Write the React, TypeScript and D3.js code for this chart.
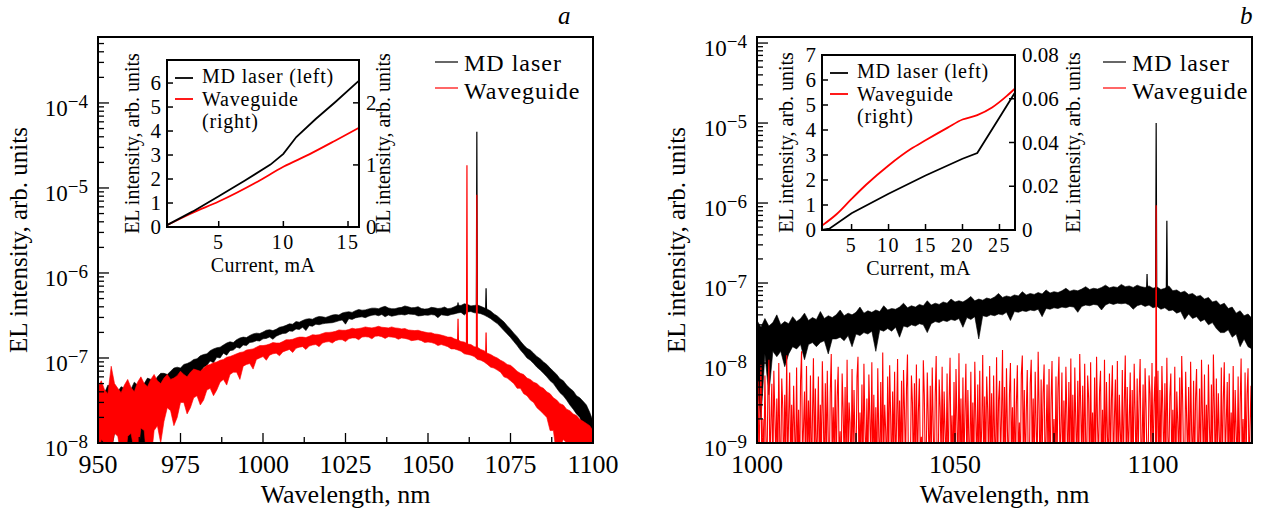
import React from 'react';
import * as d3 from 'd3';

const FONT = '"Liberation Serif", "Times New Roman", Times, serif';

// ---------- panel a: EL spectra 950..1100 nm, 1 nm step, noise band low/high, x1e-8
const aStartNm = 950;
const aLaserLo = [
  1.0, 0.5, 1.4, 1.1, 0.8, 1.3, 1.6, 0.7, 1.2, 1.0,
  0.6, 1.2, 1.5, 0.4, 0.7, 1.4, 1.8, 2.0, 2.6, 2.2,
  3.6, 3.4, 4.2, 3.9, 4.8, 4.4, 5.4, 5.0, 6.2, 6.0,
  7.0, 6.6, 7.8, 8.2, 9.2, 8.8, 10.2, 10.0, 11.4, 10.8,
  12.2, 12.4, 13.4, 13.0, 14.2, 14.0, 15.2, 15.4, 16.0, 15.8,
  16.8, 17.0, 17.6, 16.6, 18.0, 18.8, 19.4, 19.6, 20.8, 20.6,
  22.0, 21.6, 23.0, 21.0, 24.0, 23.6, 25.0, 24.6, 25.2, 25.6,
  25.8, 26.0, 26.6, 27.4, 28.0, 25.0, 29.0, 28.4, 29.6, 30.2,
  30.5, 29.8, 31.0, 31.8, 32.2, 31.4, 32.5, 30.5, 32.0, 31.0,
  31.6, 32.2, 32.5, 32.0, 33.0, 32.6, 32.4, 31.2, 31.5, 32.0,
  31.8, 32.4, 32.0, 29.8, 32.2, 31.8, 31.5, 32.4, 33.0, 33.8,
  34.4, 32.0, 34.8, 35.2, 34.0, 33.8, 33.2, 32.0, 30.5, 29.0,
  27.0, 25.4, 23.2, 21.0, 19.2, 17.4, 15.6, 14.0, 12.4, 11.2,
  10.0, 9.4, 8.6, 7.8, 7.2, 6.6, 6.0, 5.4, 5.0, 4.4,
  3.9, 3.6, 3.2, 2.8, 2.5, 2.2, 2.0, 1.6, 1.5, 1.2,
  0.9,
];
const aLaserHi = [
  4.2, 3.6, 3.9, 4.8, 4.6, 3.8, 4.0, 4.6, 4.4, 3.9,
  4.3, 5.2, 4.8, 4.4, 5.0, 5.8, 5.6, 5.2, 6.0, 6.6,
  6.6, 6.4, 7.0, 7.6, 7.8, 7.6, 8.4, 8.6, 9.0, 9.6,
  9.8, 10.6, 11.0, 11.2, 12.2, 12.8, 13.2, 13.4, 14.2, 15.0,
  15.5, 15.2, 16.4, 17.2, 17.6, 17.4, 18.4, 19.2, 19.6, 19.4,
  20.2, 21.2, 21.5, 21.0, 21.8, 23.0, 23.4, 24.2, 25.2, 25.0,
  26.8, 26.4, 27.6, 28.6, 29.0, 28.6, 30.0, 30.8, 30.5, 30.0,
  31.0, 32.0, 32.4, 32.0, 33.8, 34.6, 35.0, 34.4, 36.0, 37.2,
  36.5, 36.8, 37.8, 38.6, 38.6, 38.0, 39.5, 40.6, 38.8, 38.0,
  38.0, 39.0, 39.4, 41.0, 40.0, 39.0, 39.2, 40.2, 38.2, 37.6,
  38.0, 39.4, 39.0, 38.2, 38.6, 39.8, 38.0, 38.6, 40.0, 41.8,
  41.5, 43.5, 42.5, 41.0, 41.5, 42.0, 40.5, 39.0, 37.5, 35.6,
  33.0, 31.2, 28.8, 26.6, 24.0, 21.8, 19.6, 17.8, 15.8, 14.2,
  13.0, 12.4, 11.4, 10.4, 9.8, 9.0, 8.4, 7.6, 7.0, 6.4,
  5.7, 5.4, 4.8, 4.4, 4.1, 3.6, 3.4, 3.1, 2.8, 2.3,
  1.8,
];
const aGuideLo = [
  0.6, 1.1, 1.0, 0.4, 0.8, 1.3, 1.2, 0.7, 0.5, 1.2,
  1.3, 0.8, 0.7, 1.5, 1.4, 0.5, 0.6, 1.4, 1.6, 1.0,
  1.8, 2.6, 2.4, 1.6, 2.0, 3.0, 3.0, 2.2, 2.6, 3.4,
  3.6, 2.8, 3.2, 4.2, 4.4, 3.6, 4.2, 5.2, 5.6, 4.8,
  6.4, 6.8, 6.8, 5.6, 8.0, 8.4, 8.6, 7.4, 9.6, 10.0,
  10.4, 9.4, 10.8, 11.2, 11.4, 10.6, 11.8, 12.2, 12.6, 11.6,
  13.0, 13.4, 13.6, 12.6, 13.8, 14.2, 14.4, 13.6, 15.0, 15.4,
  15.6, 15.0, 16.0, 16.4, 16.4, 15.6, 16.8, 17.2, 17.2, 16.4,
  17.6, 17.8, 17.6, 16.8, 18.0, 18.2, 17.8, 17.0, 17.8, 17.6,
  17.4, 16.6, 17.2, 17.0, 16.6, 16.0, 16.2, 16.4, 16.0, 15.2,
  15.4, 15.2, 14.8, 14.0, 14.4, 14.0, 13.6, 12.8, 12.8, 12.4,
  12.0, 11.2, 11.0, 10.8, 10.4, 9.6, 9.4, 9.0, 8.4, 7.8,
  7.6, 7.2, 6.8, 6.0, 5.8, 5.4, 5.0, 4.4, 4.4, 3.8,
  3.6, 3.2, 3.0, 2.6, 2.4, 2.2, 2.0, 1.4, 1.4, 0.7,
  0.9, 1.1, 1.0, 0.6, 0.7, 0.9, 0.8, 0.5, 0.6, 0.7,
  0.5,
];
const aGuideHi = [
  4.6, 5.4, 4.2, 3.8, 8.0, 5.0, 4.4, 3.9, 4.8, 5.6,
  4.5, 4.0, 5.2, 6.0, 5.0, 4.6, 5.6, 6.4, 5.4, 5.0,
  5.8, 6.4, 5.6, 5.8, 6.2, 7.0, 6.4, 6.0, 6.8, 7.4,
  7.2, 7.0, 7.6, 8.2, 8.4, 8.8, 9.0, 9.4, 9.6, 10.2,
  10.4, 10.8, 11.2, 11.6, 11.8, 12.4, 12.6, 12.8, 13.4, 14.0,
  14.0, 14.2, 14.6, 15.2, 15.0, 15.0, 15.6, 16.4, 16.4, 16.6,
  17.2, 17.6, 17.6, 17.4, 18.0, 18.8, 18.6, 18.8, 19.4, 20.0,
  20.0, 20.2, 20.6, 21.4, 21.2, 21.2, 21.6, 22.4, 22.0, 22.2,
  22.6, 23.2, 22.8, 22.6, 23.0, 23.6, 23.0, 22.8, 22.6, 23.2,
  22.6, 22.4, 22.0, 22.2, 21.4, 21.2, 21.0, 21.2, 20.6, 20.2,
  19.8, 19.8, 19.2, 19.0, 18.6, 18.2, 17.6, 17.6, 16.8, 16.4,
  15.6, 15.4, 14.6, 14.4, 13.6, 13.4, 12.6, 12.2, 11.4, 11.0,
  10.4, 10.0, 9.4, 9.0, 8.4, 8.2, 7.6, 7.0, 6.6, 6.4,
  5.8, 5.6, 5.2, 5.0, 4.6, 4.4, 4.0, 3.8, 3.4, 3.2,
  2.9, 2.8, 2.5, 2.4, 2.2, 2.1, 1.9, 1.8, 1.7, 1.6,
  1.4,
];
const aLaserPeakNm = [1059.1, 1064.8, 1067.6];
const aLaserPeakVal = [4.5e-7, 4.6e-5, 6.6e-7];
const aGuidePeakNm = [1059.1, 1061.8, 1064.8, 1067.6];
const aGuidePeakVal = [2.9e-7, 1.85e-5, 8.3e-6, 2.0e-7];

// panel a inset: integrated EL vs current
const aInsetCurLaser = [1, 3, 5, 7, 9, 10, 11, 12.5, 14, 15.85];
const aInsetLaser = [0.08, 0.65, 1.28, 1.93, 2.6, 3.05, 3.75, 4.5, 5.2, 6.1];
const aInsetCurGuide = [1, 3, 5, 8, 10, 12, 14, 15.85];
const aInsetGuide = [0.03, 0.23, 0.41, 0.73, 0.97, 1.17, 1.39, 1.6];

// ---------- panel b: 1000..1125 nm
const bStartNm = 1000;
// laser, 1 nm step, noise band low/high, x1e-8
const bLaserLo = [
  0.5, 0.2, 1.3, 0.4, 1.4, 1.2, 1.4, 0.9, 1.3, 1.6,
  1.5, 1.7, 1.1, 1.7, 1.8, 1.6, 1.8, 1.9, 1.3, 2.0,
  2.0, 2.1, 1.9, 2.2, 1.6, 2.3, 2.2, 2.4, 2.3, 2.5,
  1.4, 2.6, 2.5, 2.7, 2.5, 2.8, 2.1, 2.9, 2.8, 3.0,
  2.9, 3.1, 3.0, 2.4, 3.1, 3.3, 3.2, 3.4, 3.3, 3.5,
  3.4, 3.6, 2.8, 3.7, 3.5, 3.8, 2.0, 3.9, 3.8, 4.0,
  3.9, 4.1, 4.0, 4.3, 3.4, 4.4, 4.3, 4.5, 4.4, 4.6,
  4.5, 4.7, 3.8, 4.8, 4.7, 4.9, 4.8, 5.0, 4.9, 5.1,
  5.0, 4.3, 5.1, 5.3, 5.2, 5.4, 5.3, 4.6, 5.3, 5.6,
  5.4, 5.6, 5.5, 5.6, 5.3, 4.7, 5.2, 5.4, 5.1, 5.3,
  4.9, 5.1, 4.7, 4.9, 4.5, 4.6, 4.2, 4.4, 3.5, 4.1,
  3.6, 3.8, 3.3, 3.5, 3.0, 3.2, 2.7, 2.4, 2.4, 2.6,
  2.1, 2.3, 1.6, 2.0, 1.6, 1.5,
];
const bLaserHi = [
  3.4, 2.8, 3.6, 2.9, 3.2, 4.0, 3.0, 3.3, 3.1, 3.8,
  3.3, 3.6, 4.2, 3.4, 3.7, 3.5, 4.4, 3.6, 3.9, 3.7,
  4.0, 4.6, 3.9, 4.2, 4.0, 4.3, 5.0, 4.2, 4.5, 4.3,
  4.6, 4.4, 5.2, 4.6, 4.8, 4.7, 5.0, 5.6, 4.9, 5.2,
  5.0, 5.4, 5.2, 6.0, 5.3, 5.6, 5.4, 5.8, 5.6, 6.3,
  5.8, 6.0, 5.8, 6.2, 6.8, 6.0, 6.3, 6.1, 6.5, 6.3,
  6.7, 7.4, 6.6, 6.9, 6.7, 7.1, 6.9, 7.8, 7.1, 7.4,
  7.2, 7.6, 7.3, 8.2, 7.5, 7.8, 7.6, 8.0, 8.6, 7.9,
  8.2, 8.0, 8.4, 9.0, 8.3, 8.6, 8.4, 8.8, 9.4, 8.7,
  9.0, 8.8, 9.6, 9.0, 9.2, 8.8, 9.4, 9.0, 8.8, 9.2,
  8.6, 8.9, 8.3, 8.6, 9.2, 8.0, 8.2, 7.6, 7.9, 7.2,
  7.4, 6.8, 7.0, 6.3, 6.6, 5.8, 6.0, 5.3, 5.6, 4.8,
  5.0, 4.2, 4.5, 3.9, 4.1, 3.6,
];
// waveguide, 0.25 nm step, x1e-9
const bGuide = [
  0.4, 6.0, 0.5, 3.2, 9.5, 0.3, 2.0, 0.6, 7.0, 1.2, 0.4, 4.5, 11.0, 0.5, 1.8, 5.5, 0.3, 8.0, 2.4, 0.6,
  3.6, 0.4, 10.0, 1.0, 0.5, 6.4, 2.8, 0.3, 4.0, 0.7, 12.5, 0.5, 2.2, 7.6, 0.4, 3.0, 0.6, 5.2, 1.4, 0.4,
  8.8, 0.5, 2.6, 0.3, 6.0, 14.0, 0.6, 1.6, 4.4, 0.4, 9.2, 0.5, 3.4, 0.7, 7.0, 0.3, 2.0, 11.5, 0.5, 4.8,
  0.6, 1.2, 6.8, 0.4, 3.0, 0.5, 10.5, 2.2, 0.3, 5.6, 0.6, 8.0, 1.0, 0.4, 4.2, 13.0, 0.5, 2.8, 0.7, 6.2,
  0.4, 3.8, 9.0, 0.5, 1.4, 0.3, 7.4, 2.6, 0.6, 5.0, 0.4, 11.0, 0.5, 3.2, 1.8, 0.3, 8.4, 0.6, 4.6, 1.0,
  0.5, 6.6, 12.0, 0.4, 2.4, 0.7, 5.4, 0.3, 9.8, 1.6, 0.5, 3.6, 0.4, 7.2, 2.0, 0.6, 10.2, 0.4, 4.0, 0.5,
  2.8, 0.3, 8.6, 1.2, 0.5, 5.8, 0.4, 13.5, 0.6, 3.0, 1.4, 0.4, 6.8, 0.5, 9.4, 2.2, 0.3, 4.4, 0.7, 7.8,
  0.4, 1.8, 11.2, 0.5, 3.4, 0.6, 6.0, 0.3, 8.2, 2.6, 0.5, 4.8, 12.8, 0.4, 1.0, 0.6, 7.0, 3.2, 0.3, 5.6,
  0.5, 9.6, 0.4, 2.4, 6.4, 0.6, 1.2, 0.3, 10.8, 4.0, 0.5, 0.7, 7.6, 2.0, 0.4, 5.2, 0.5, 8.8, 1.6, 0.3,
  3.8, 12.2, 0.5, 0.4, 6.2, 2.8, 0.6, 9.0, 0.4, 4.4, 1.4, 0.5, 7.4, 0.3, 3.0, 11.6, 0.6, 2.2, 0.4, 5.8,
  0.5, 8.4, 1.8, 0.4, 13.2, 0.6, 3.6, 0.3, 6.6, 0.5, 2.4, 9.8, 0.4, 4.6, 1.0, 0.6, 7.8, 0.5, 3.2, 0.4,
  10.4, 2.0, 0.5, 5.4, 0.3, 8.0, 0.6, 1.6, 12.6, 0.4, 3.8, 0.5, 6.8, 2.6, 0.4, 9.2, 0.6, 4.2, 0.3, 7.0,
  1.2, 0.5, 11.8, 0.4, 3.4, 6.0, 0.6, 2.2, 14.5, 0.3, 5.0, 0.5, 8.6, 1.4, 0.4, 4.0, 10.0, 0.6, 2.8, 0.5,
  6.4, 0.3, 3.0, 9.4, 0.5, 1.8, 0.4, 7.2, 12.4, 0.6, 4.6, 0.4, 2.4, 8.2, 0.5, 0.3, 5.6, 11.0, 0.6, 3.6,
  0.4, 7.8, 1.6, 0.5, 13.8, 2.6, 0.3, 6.2, 0.6, 4.2, 9.6, 0.4, 1.2, 5.4, 0.5, 8.4, 0.3, 3.2, 10.6, 0.6,
  2.0, 0.4, 6.8, 0.5, 4.8, 12.0, 0.6, 1.4, 7.6, 0.3, 3.4, 0.5, 9.0, 2.2, 0.4, 5.8, 0.6, 11.4, 0.5, 4.0,
  0.3, 8.8, 1.8, 0.5, 6.0, 0.4, 13.0, 2.8, 0.6, 5.2, 0.4, 9.8, 1.0, 0.5, 7.0, 3.6, 0.3, 10.2, 0.6, 2.4,
  0.5, 6.6, 0.4, 12.0, 1.6, 0.6, 4.4, 8.0, 0.3, 2.6, 0.5, 11.0, 0.4, 5.8, 1.2, 0.6, 7.4, 0.5, 3.4, 9.4,
  0.4, 2.0, 6.2, 0.5, 10.6, 0.3, 4.0, 1.4, 0.6, 8.2, 0.4, 3.0, 12.4, 0.5, 5.0, 0.6, 1.8, 7.6, 0.3, 4.6,
  0.5, 9.8, 2.2, 0.4, 6.4, 0.6, 3.6, 11.2, 0.5, 1.0, 5.4, 0.3, 8.6, 2.8, 0.5, 0.4, 7.0, 4.2, 0.6, 10.0,
  0.4, 3.0, 6.8, 0.5, 1.6, 8.0, 0.3, 4.6, 0.6, 9.2, 2.4, 0.4, 5.6, 0.5, 11.6, 1.2, 0.6, 3.8, 7.4, 0.4,
  2.6, 0.5, 9.0, 0.3, 4.4, 1.8, 0.6, 6.6, 0.4, 12.2, 3.2, 0.5, 0.4, 7.8, 2.0, 0.6, 5.0, 0.3, 10.4, 1.4,
  0.5, 6.0, 0.4, 3.6, 8.4, 0.6, 1.0, 4.8, 0.3, 11.0, 2.2, 0.5, 7.2, 0.4, 3.0, 0.6, 9.6, 1.6, 0.5, 5.4,
  0.4, 12.8, 2.8, 0.3, 6.4, 0.6, 4.2, 1.2, 0.5, 8.8, 0.4, 3.4, 10.2, 0.6, 1.8, 5.8, 0.3, 7.4, 0.5, 2.4,
  0.6, 9.2, 0.4, 4.6, 1.4, 0.5, 6.8, 0.3, 3.0, 11.4, 0.6, 2.0, 0.4, 7.6, 0.5, 4.0, 8.6, 0.4, 1.6, 5.2,
  0.5,
];
const bLaserPeakNm = [1098.5, 1100.8, 1103.5];
const bLaserPeakVal = [1.3e-7, 1.0e-5, 6.0e-7];
const bGuidePeakNm = [1100.8];
const bGuidePeakVal = [9.4e-7];

const bInsetCurLaser = [1, 2, 5, 10, 15, 20, 22, 25, 27.1];
const bInsetLaser = [0, 0.05, 0.67, 1.45, 2.18, 2.85, 3.08, 4.5, 5.5];
const bInsetCurGuide = [1, 3, 5, 7, 10, 13, 15, 18, 20, 22, 24, 26, 27.1];
const bInsetGuide = [0.002, 0.0073, 0.0142, 0.0208, 0.0295, 0.037, 0.041, 0.0468, 0.0505, 0.0525, 0.056, 0.0613, 0.0647];

type Pt = [number, number];
type Band = { start: number; step: number; lo: number[]; hi: number[]; unit: number };
type Trace = { start: number; step: number; vals: number[]; unit: number };
type Peaks = { nm: number[]; val: number[]; base: (nm: number) => number };

function bandBase(b: Band) {
  return (nm: number) => {
    const i = Math.round((nm - b.start) / b.step);
    return Math.sqrt(b.lo[i] * b.hi[i]) * b.unit;
  };
}
function traceBase(t: Trace) {
  return (nm: number) => t.vals[Math.round((nm - t.start) / t.step)] * t.unit;
}

type InsetProps = {
  left: number; right: number; top: number; bottom: number;
  curDomain: [number, number]; leftMax: number; rightMax: number;
  curTicks: number[]; leftTicks: number[]; rightTicks: number[];
  rightFmt: (v: number) => string;
  laserCur: number[]; laser: number[]; guideCur: number[]; guide: number[];
  leftTitleX: number; rightTitleX: number;
};

function Inset(p: InsetProps) {
  const x = d3.scaleLinear().domain(p.curDomain).range([p.left, p.right]);
  const yl = d3.scaleLinear().domain([0, p.leftMax]).range([p.bottom, p.top]);
  const yr = d3.scaleLinear().domain([0, p.rightMax]).range([p.bottom, p.top]);
  const lineL = d3.line<number>().x((_, i) => x(p.laserCur[i])).y(d => yl(d));
  const lineR = d3.line<number>().x((_, i) => x(p.guideCur[i])).y(d => yr(d)).curve(d3.curveMonotoneX);
  const midY = (p.top + p.bottom) / 2;
  return (
    <g fontFamily={FONT}>
      <rect x={p.left} y={p.top} width={p.right - p.left} height={p.bottom - p.top} fill="#fff" />
      <path d={lineR(p.guide) || ''} fill="none" stroke="#ff0000" strokeWidth={1.8} />
      <path d={lineL(p.laser) || ''} fill="none" stroke="#000" strokeWidth={1.8} />
      {p.curTicks.map(t => (
        <g key={'c' + t}>
          <line x1={x(t)} x2={x(t)} y1={p.bottom} y2={p.bottom - 6} stroke="#000" strokeWidth={1.5} />
          <text x={x(t)} y={p.bottom + 22} fontSize={20} textAnchor="middle" letterSpacing={1.5}>{t}</text>
        </g>
      ))}
      {p.leftTicks.map(t => (
        <g key={'l' + t}>
          <line x1={p.left} x2={p.left + 6} y1={yl(t)} y2={yl(t)} stroke="#000" strokeWidth={1.5} />
          <text x={p.left - 6} y={yl(t) + 7} fontSize={21} textAnchor="end">{t}</text>
        </g>
      ))}
      {p.rightTicks.map(t => (
        <g key={'r' + t}>
          <line x1={p.right} x2={p.right - 6} y1={yr(t)} y2={yr(t)} stroke="#000" strokeWidth={1.5} />
          <text x={p.right + 7} y={yr(t) + 7} fontSize={21} textAnchor="start">{p.rightFmt(t)}</text>
        </g>
      ))}
      <rect x={p.left} y={p.top} width={p.right - p.left} height={p.bottom - p.top} fill="none" stroke="#000" strokeWidth={2} />
      <text x={(p.left + p.right) / 2} y={p.bottom + 45} fontSize={20} textAnchor="middle" letterSpacing={0.3}>Current, mA</text>
      <text transform={`translate(${p.leftTitleX},${midY}) rotate(-90)`} fontSize={20} textAnchor="middle">EL intensity, arb. units</text>
      <text transform={`translate(${p.rightTitleX},${midY}) rotate(-90)`} fontSize={20} textAnchor="middle">EL intensity, arb. units</text>
      {/* legend */}
      <line x1={p.left + 8} x2={p.left + 26} y1={p.top + 18} y2={p.top + 18} stroke="#000" strokeWidth={1.8} />
      <line x1={p.left + 8} x2={p.left + 26} y1={p.top + 39} y2={p.top + 39} stroke="#ff0000" strokeWidth={1.8} />
      <text x={p.left + 35} y={p.top + 23} fontSize={20} letterSpacing={0.8}>MD laser (left)</text>
      <text x={p.left + 35} y={p.top + 45.5} fontSize={20} letterSpacing={0.8}>Waveguide</text>
      <text x={p.left + 35} y={p.top + 68} fontSize={20} letterSpacing={0.8}>(right)</text>
    </g>
  );
}

type PanelProps = {
  clipId: string;
  left: number; right: number; top: number; bottom: number;
  nmDomain: [number, number]; yDomain: [number, number];
  nmMajor: number[]; nmMinor: number[]; nmLabels: number[];
  laser: Band; guideBand?: Band; guideTrace?: Trace;
  laserPeaks: Peaks; guidePeaks: Peaks;
  letter: string; letterX: number; legendX: number; yTitleX: number;
  children?: React.ReactNode;
};

function Panel(p: PanelProps) {
  const x = d3.scaleLinear().domain(p.nmDomain).range([p.left, p.right]);
  const y = d3.scaleLog().domain(p.yDomain).range([p.bottom, p.top]);
  const floor = p.yDomain[0] / 20;
  const yv = (v: number) => y(Math.max(v, floor));
  const area = (b: Band) =>
    d3.area<number>()
      .x((_, i) => x(b.start + i * b.step))
      .y0((_, i) => yv(b.lo[i] * b.unit))
      .y1((_, i) => yv(b.hi[i] * b.unit))(b.lo) || '';
  const trace = (t: Trace) =>
    d3.line<number>().x((_, i) => x(t.start + i * t.step)).y(d => yv(d * t.unit))(t.vals) || '';
  const peakLine = d3.line<Pt>().x(d => x(d[0])).y(d => yv(d[1]));
  const peaks = (pk: Peaks) =>
    pk.nm.map((nm, k) => {
      const b = pk.base(nm);
      return [[nm - 0.15, b], [nm, pk.val[k]], [nm + 0.15, b]] as Pt[];
    });
  const yTicks = y.ticks();
  const isDecade = (t: number) => Math.abs(Math.log10(t) - Math.round(Math.log10(t))) < 1e-6;
  return (
    <g fontFamily={FONT}>
      <defs>
        <clipPath id={p.clipId}>
          <rect x={p.left} y={p.top} width={p.right - p.left} height={p.bottom - p.top} />
        </clipPath>
      </defs>
      <g clipPath={`url(#${p.clipId})`}>
        <path d={area(p.laser)} fill="#000" stroke="#000" strokeWidth={0.6} />
        {peaks(p.laserPeaks).map((pts, i) => (
          <path key={'lp' + i} d={peakLine(pts) || ''} fill="none" stroke="#000" strokeWidth={1.2} />
        ))}
        {p.guideBand && <path d={area(p.guideBand)} fill="#ff0000" stroke="#ff0000" strokeWidth={0.6} />}
        {p.guideTrace && <path d={trace(p.guideTrace)} fill="none" stroke="#ff0000" strokeWidth={1.1} />}
        {peaks(p.guidePeaks).map((pts, i) => (
          <path key={'gp' + i} d={peakLine(pts) || ''} fill="none" stroke="#ff0000" strokeWidth={1.2} />
        ))}
      </g>
      {yTicks.map(t => {
        const major = isDecade(t);
        return (
          <g key={'y' + t}>
            <line x1={p.left} x2={p.left + (major ? 11 : 6)} y1={y(t)} y2={y(t)} stroke="#000" strokeWidth={1.3} />
            {major && (
              <text x={p.left - 10} y={y(t) + 13} fontSize={23} textAnchor="end">
                10<tspan fontSize={19} dy={-8}>{'\u2212' + -Math.round(Math.log10(t))}</tspan>
              </text>
            )}
          </g>
        );
      })}
      {p.nmMajor.map(t => (
        <line key={'M' + t} x1={x(t)} x2={x(t)} y1={p.bottom} y2={p.bottom - 10} stroke="#000" strokeWidth={1.3} />
      ))}
      {p.nmMinor.map(t => (
        <line key={'m' + t} x1={x(t)} x2={x(t)} y1={p.bottom} y2={p.bottom - 6} stroke="#000" strokeWidth={1.3} />
      ))}
      {p.nmLabels.map(t => (
        <text key={'L' + t} x={x(t)} y={p.bottom + 30} fontSize={26} textAnchor="middle">{t}</text>
      ))}
      <rect x={p.left} y={p.top} width={p.right - p.left} height={p.bottom - p.top} fill="none" stroke="#000" strokeWidth={2} />
      <text x={(p.left + p.right) / 2} y={503} fontSize={26} textAnchor="middle">Wavelength, nm</text>
      <text transform={`translate(${p.yTitleX},240) rotate(-90)`} fontSize={25} textAnchor="middle">EL intensity, arb. units</text>
      <text x={p.letterX} y={24} fontSize={25} fontStyle="italic">{p.letter}</text>
      <line x1={p.legendX} x2={p.legendX + 23} y1={62} y2={62} stroke="#000" strokeWidth={1.2} />
      <line x1={p.legendX} x2={p.legendX + 23} y1={88} y2={88} stroke="#ff0000" strokeWidth={1.2} />
      <text x={p.legendX + 29} y={71} fontSize={24} letterSpacing={1}>MD laser</text>
      <text x={p.legendX + 29} y={98.5} fontSize={24} letterSpacing={1}>Waveguide</text>
      {p.children}
    </g>
  );
}

export default function App() {
  const aL: Band = { start: aStartNm, step: 1, lo: aLaserLo, hi: aLaserHi, unit: 1e-8 };
  const aG: Band = { start: aStartNm, step: 1, lo: aGuideLo, hi: aGuideHi, unit: 1e-8 };
  const bL: Band = { start: bStartNm, step: 1, lo: bLaserLo, hi: bLaserHi, unit: 1e-8 };
  const bG: Trace = { start: bStartNm, step: 0.25, vals: bGuide, unit: 1e-9 };
  return (
    <div style={{ position: 'absolute', left: 0, top: 0 }}>
      <svg width={1263} height={515} style={{ display: 'block', background: '#fff' }}>
        <Panel
          clipId="clipA" left={98} right={593} top={37} bottom={443}
          nmDomain={[950, 1100]} yDomain={[1e-8, 5.97e-4]}
          nmMajor={d3.range(950, 1101, 25)} nmMinor={d3.range(962.5, 1100, 25)} nmLabels={d3.range(950, 1101, 25)}
          laser={aL} guideBand={aG}
          laserPeaks={{ nm: aLaserPeakNm, val: aLaserPeakVal, base: bandBase(aL) }}
          guidePeaks={{ nm: aGuidePeakNm, val: aGuidePeakVal, base: bandBase(aG) }}
          letter="a" letterX={558} legendX={435} yTitleX={27}
        >
          <Inset
            left={167} right={359} top={60} bottom={227}
            curDomain={[1, 15.85]} leftMax={6.96} rightMax={2.69}
            curTicks={[5, 10, 15]} leftTicks={[0, 1, 2, 3, 4, 5, 6]} rightTicks={[0, 1, 2]}
            rightFmt={v => String(v)}
            laserCur={aInsetCurLaser} laser={aInsetLaser} guideCur={aInsetCurGuide} guide={aInsetGuide}
            leftTitleX={139} rightTitleX={390}
          />
        </Panel>
        <Panel
          clipId="clipB" left={757} right={1252} top={37} bottom={443}
          nmDomain={[1000, 1125]} yDomain={[1e-9, 1.19e-4]}
          nmMajor={d3.range(1000, 1125, 25)} nmMinor={[]} nmLabels={[1000, 1050, 1100]}
          laser={bL} guideTrace={bG}
          laserPeaks={{ nm: bLaserPeakNm, val: bLaserPeakVal, base: bandBase(bL) }}
          guidePeaks={{ nm: bGuidePeakNm, val: bGuidePeakVal, base: traceBase(bG) }}
          letter="b" letterX={1240} legendX={1103} yTitleX={685}
        >
          <Inset
            left={822} right={1015} top={55} bottom={230}
            curDomain={[1, 27.1]} leftMax={7} rightMax={0.08}
            curTicks={[5, 10, 15, 20, 25]} leftTicks={[0, 1, 2, 3, 4, 5, 6, 7]} rightTicks={[0, 0.02, 0.04, 0.06, 0.08]}
            rightFmt={v => (v === 0 ? '0' : v.toFixed(2))}
            laserCur={bInsetCurLaser} laser={bInsetLaser} guideCur={bInsetCurGuide} guide={bInsetGuide}
            leftTitleX={793} rightTitleX={1080}
          />
        </Panel>
      </svg>
    </div>
  );
}
